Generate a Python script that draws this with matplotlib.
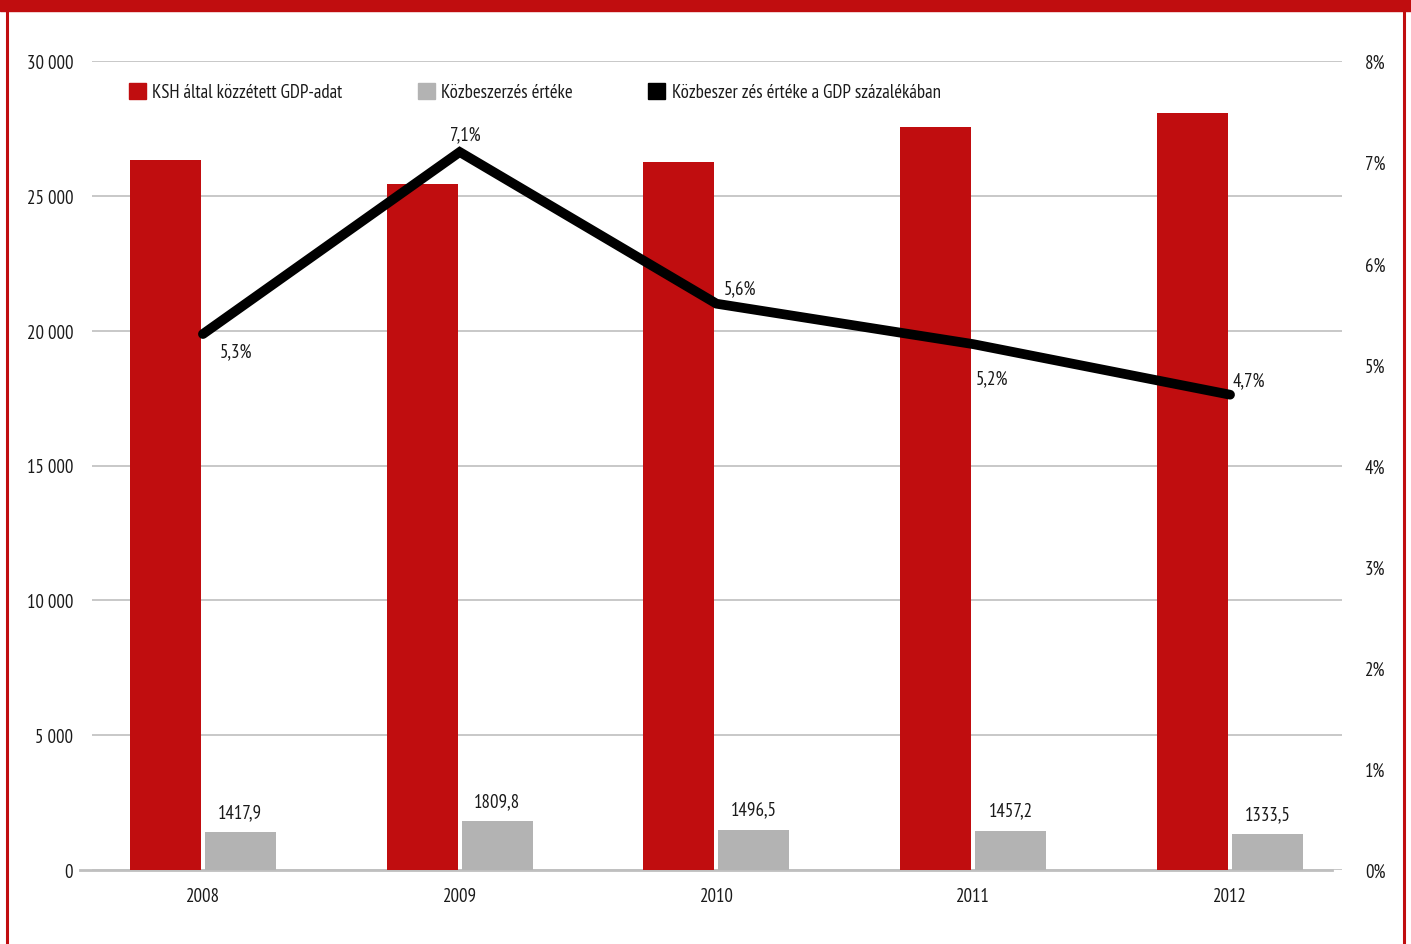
import matplotlib
matplotlib.use("Agg")
import matplotlib.pyplot as plt
from matplotlib.patches import Patch, Rectangle
from matplotlib.lines import Line2D
from matplotlib.ticker import FuncFormatter, MultipleLocator
import numpy as np

years = ["2008", "2009", "2010", "2011", "2012"]
gdp = [26330, 25440, 26250, 27550, 28070]
kozbeszerzes = [1417.9, 1809.8, 1496.5, 1457.2, 1333.5]
arany = [5.3, 7.1, 5.6, 5.2, 4.7]

# pixel offsets of the percentage labels relative to the line points
pct_offsets = [(33, -17), (6, 18), (24, 15), (19, -34), (19, 14)]

RED = "#C00D0F"
GRAY = "#B3B3B3"
GRID = "#BFBFBF"
FS = 13.6

plt.rcParams["font.family"] = ["PT Sans Narrow", "DejaVu Sans"]
plt.rcParams["font.size"] = FS
plt.rcParams["text.color"] = "#1a1a1a"

fig = plt.figure(figsize=(14.11, 9.45), dpi=100)
ax = fig.add_axes([92 / 1411, 74 / 945, 1250 / 1411, 809 / 945])

x = np.arange(len(years))
w = 0.2765
off = w / 2 + 0.0078
ax.bar(x - off, gdp, width=w, color=RED, zorder=2)
gb = ax.bar(x + off, kozbeszerzes, width=w, color=GRAY, zorder=2)
for rect, v in zip(gb, kozbeszerzes):
    ax.annotate(f"{v:.1f}".replace(".", ","),
                (rect.get_x() + rect.get_width() / 2, v),
                xytext=(0, 11), textcoords="offset pixels",
                ha="center", va="bottom", fontsize=FS)

ax.set_xlim(-0.432, 4.436)
ax.set_ylim(0, 30000)
ax.yaxis.set_major_locator(MultipleLocator(5000))
ax.yaxis.set_major_formatter(FuncFormatter(lambda v, p: f"{int(v):,}".replace(",", " ")))
ax.set_xticks(x)
ax.set_xticklabels(years)
ax.grid(axis="y", color=GRID, linewidth=1.2, zorder=0)
for s in ax.spines.values():
    s.set_visible(False)
# baseline, shifted a little left of the grid
ax.plot([-0.0096, 0.992], [0, 0], transform=ax.transAxes, color=GRID,
        linewidth=2, clip_on=False, zorder=1)
ax.tick_params(axis="both", length=0, labelsize=FS, labelcolor="#1a1a1a")
ax.tick_params(axis="y", pad=13.5)
ax.tick_params(axis="x", pad=12)

ax2 = ax.twinx()
ax2.set_ylim(0, 8)
ax2.yaxis.set_major_locator(MultipleLocator(1))
ax2.yaxis.set_major_formatter(FuncFormatter(lambda v, p: f"{int(round(v))}%"))
for s in ax2.spines.values():
    s.set_visible(False)
ax2.tick_params(axis="y", length=0, pad=16.5, labelsize=FS, labelcolor="#1a1a1a")
ax2.plot(x, arany, color="black", linewidth=7, solid_capstyle="round",
         solid_joinstyle="miter", zorder=3)
for xi, v, (dx, dy) in zip(x, arany, pct_offsets):
    ax2.annotate(f"{v:.1f}%".replace(".", ","), (xi, v), xytext=(dx, dy),
                 textcoords="offset pixels", ha="center", va="center", fontsize=FS)

handles = [Patch(color=RED), Patch(color=GRAY), Patch(color="black")]
labels = ["KSH által közzétett GDP-adat", "Közbeszerzés értéke",
          "Közbeszer zés értéke a GDP százalékában"]
ax.legend(handles, labels, ncol=3, frameon=False, loc="center left",
          bbox_to_anchor=(129 / 1411, 1 - 93 / 945), bbox_transform=fig.transFigure,
          handlelength=0.9, handleheight=0.9, handletextpad=0.33,
          columnspacing=4.0, borderpad=0, borderaxespad=0, fontsize=FS)

# red frame around the chart
fig.patches.append(Rectangle((0, 1 - 12 / 945), 1, 12 / 945, transform=fig.transFigure,
                             color=RED, zorder=0))
fig.add_artist(Line2D([6.5 / 1411, 6.5 / 1411], [0, 1], transform=fig.transFigure,
                      color=RED, linewidth=2.2))
fig.add_artist(Line2D([1403.5 / 1411, 1403.5 / 1411], [0, 1], transform=fig.transFigure,
                      color=RED, linewidth=2.2))

fig.savefig("out.png", dpi=100)
